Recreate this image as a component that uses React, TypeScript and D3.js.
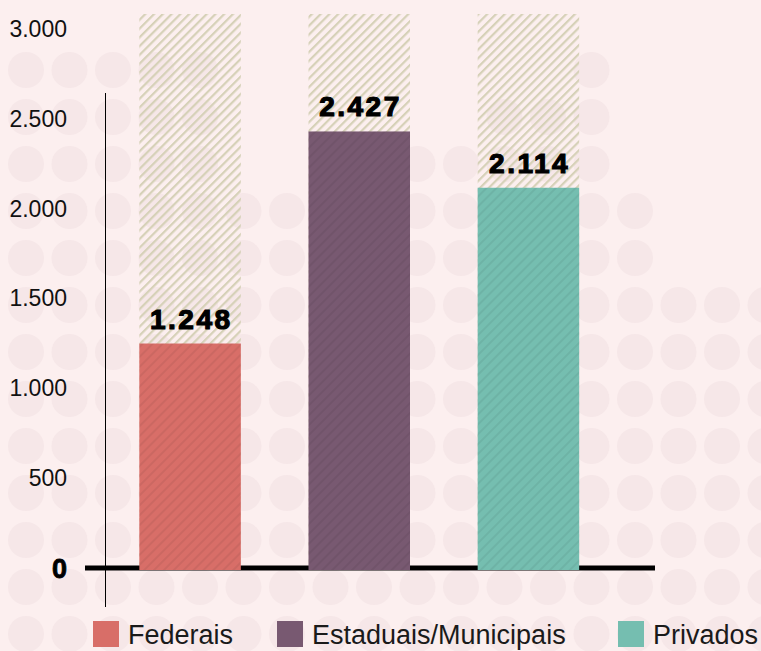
// App.tsx
import React from "react";
import * as d3 from "d3";

const categories = ["Federais", "Estaduais/Municipais", "Privados"];
const values = [1248, 2427, 2114];
const colors = ["#d86e68", "#785971", "#75beb0"];
const yTicks = [500, 1000, 1500, 2000, 2500, 3000];
const backdropMax = 3080;

// columns of the dotted background and the first visible row in each
const dotStartRow = [1, 1, 1, 1, 1, 4, 4, 4, 3, 3, 3, 2, 2, 1, 4, 6, 6, 6];
const dotRows = 14;

const W = 761;
const H = 651;
const bg = "#fcefef";

const ptBR = d3.formatLocale({ decimal: ",", thousands: ".", grouping: [3], currency: ["R$", ""] });
const fmt = ptBR.format(",");

const App: React.FC = () => {
  const x = d3.scaleBand<string>().domain(categories).range([105.5, 613]).paddingInner(0.4).paddingOuter(0.2);
  const y = d3.scaleLinear().domain([0, backdropMax]).range([568, 14]);
  const dotX = d3.scaleLinear().domain([0, 1]).range([26, 69.5]);
  const dotY = d3.scaleLinear().domain([0, 1]).range([23, 70]);

  // legend layout
  const legendText = [128, 312, 653];

  return (
    <svg
      width={W}
      height={H}
      viewBox={`0 0 ${W} ${H}`}
      style={{ position: "absolute", left: 0, top: 0, display: "block", background: bg }}
      fontFamily="'Liberation Sans', Arial, sans-serif"
    >
      <defs>
        <pattern id="hatch" patternUnits="userSpaceOnUse" width={6.2} height={6.2} patternTransform="rotate(45)">
          <rect x={0} y={0} width={2.2} height={6.2} fill="#d6d1b8" />
        </pattern>
        <pattern id="hatchDark" patternUnits="userSpaceOnUse" width={7} height={7} patternTransform="rotate(45)">
          <line x1={1} y1={0} x2={1} y2={7} stroke="#000" strokeOpacity={0.06} strokeWidth={2} />
        </pattern>
      </defs>

      <rect width={W} height={H} fill={bg} />

      <g fill="#f6e7e8">
        {dotStartRow.flatMap((start, c) =>
          d3.range(start, dotRows).map((r) => (
            <circle key={`${c}-${r}`} cx={dotX(c)} cy={dotY(r)} r={18} />
          ))
        )}
      </g>

      {/* backdrop bars */}
      <g>
        {categories.map((c) => (
          <rect key={c} x={x(c)} y={y(backdropMax)} width={x.bandwidth()} height={y(0) - y(backdropMax)} fill="url(#hatch)" />
        ))}
      </g>

      {/* y labels */}
      <g fontSize={23} fill="#111" textAnchor="end">
        {yTicks.map((t) => (
          <text key={t} x={67} y={y(t)} dy="0.36em">
            {fmt(t)}
          </text>
        ))}
        <text x={67} y={y(0)} dy="0.37em" fontSize={27} fontWeight="bold" fill="#000" stroke="#000" strokeWidth={0.8}>
          0
        </text>
      </g>

      {/* axis lines */}
      <line x1={105.5} x2={105.5} y1={93} y2={607} stroke="#000" strokeWidth={1} />
      <line x1={85} x2={655} y1={y(0)} y2={y(0)} stroke="#000" strokeWidth={5} />

      {/* bars */}
      <g>
        {categories.map((c, i) => (
          <g key={c}>
            <rect x={x(c)} y={y(values[i])} width={x.bandwidth()} height={y(0) - y(values[i]) + 2} fill={colors[i]} />
            <rect x={x(c)} y={y(values[i])} width={x.bandwidth()} height={y(0) - y(values[i]) + 2} fill="url(#hatchDark)" />
          </g>
        ))}
      </g>

      {/* value labels */}
      <g fontSize={28} fontWeight="bold" fill="#000" stroke="#000" strokeWidth={1.2} textAnchor="middle" letterSpacing={2.5}>
        {categories.map((c, i) => (
          <text key={c} x={(x(c) ?? 0) + x.bandwidth() / 2 + 1.2} y={y(values[i]) - 15}>
            {fmt(values[i])}
          </text>
        ))}
      </g>

      {/* legend */}
      <g fontSize={27} fill="#1a1a1a">
        {categories.map((c, i) => (
          <g key={c}>
            <rect x={legendText[i] - 35} y={621} width={26} height={26} fill={colors[i]} />
            <text x={legendText[i]} y={644}>
              {c}
            </text>
          </g>
        ))}
      </g>
    </svg>
  );
};

export default App;
